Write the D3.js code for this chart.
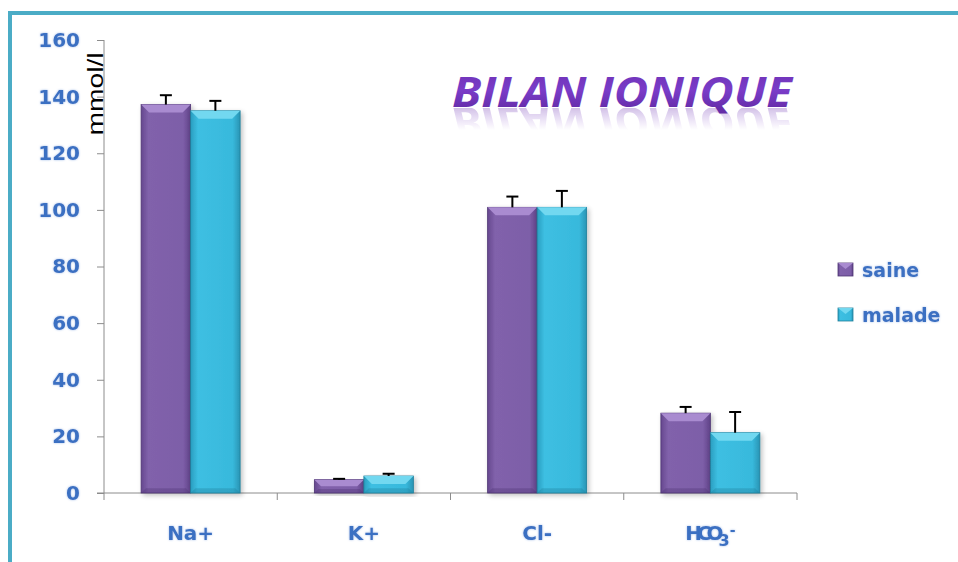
<!DOCTYPE html>
<html>
<head>
<meta charset="utf-8">
<script src="https://cdn.jsdelivr.net/npm/d3@7"></script>
<style>
  html, body { margin: 0; padding: 0; background: #fff; }
  svg { display: block; }
</style>
</head>
<body>
<div id="chart"></div>
<script>
// Ion concentrations (mmol/l), healthy vs. sick, with error bars
const categories = ["Na+", "K+", "Cl-", "HCO3-"];
const seriesNames = ["saine", "malade"];
const sainValues = [137.2, 4.7, 100.9, 28.2];
const sainErrors = [3.3, 0.3, 3.8, 2.2];
const maladeValues = [135.0, 6.0, 100.9, 21.3];
const maladeErrors = [3.5, 0.8, 5.8, 7.3];
const yTicks = [0, 20, 40, 60, 80, 100, 120, 140, 160];

const W = 958, H = 562;
const svg = d3.select("#chart").append("svg").attr("width", W).attr("height", H);
const defs = svg.append("defs");

// Soft glow used on the blue labels
const glow = defs.append("filter").attr("id", "glow").attr("x", "-20%").attr("y", "-40%").attr("width", "140%").attr("height", "180%");
glow.append("feGaussianBlur").attr("in", "SourceAlpha").attr("stdDeviation", 1.3).attr("result", "b");
glow.append("feFlood").attr("flood-color", "#9ab8e6").attr("flood-opacity", 0.9);
glow.append("feComposite").attr("in2", "b").attr("operator", "in").attr("result", "g");
const gm = glow.append("feMerge");
gm.append("feMergeNode").attr("in", "g");
gm.append("feMergeNode").attr("in", "SourceGraphic");

const shadow = defs.append("filter").attr("id", "shadow").attr("x", "-20%").attr("y", "-20%").attr("width", "150%").attr("height", "140%");
shadow.append("feGaussianBlur").attr("in", "SourceAlpha").attr("stdDeviation", 2.5).attr("result", "b");
shadow.append("feOffset").attr("in", "b").attr("dx", 2).attr("dy", 2).attr("result", "o");
shadow.append("feComponentTransfer").attr("in", "o").attr("result", "s")
  .append("feFuncA").attr("type", "linear").attr("slope", 0.25);
const sm = shadow.append("feMerge");
sm.append("feMergeNode").attr("in", "s");
sm.append("feMergeNode").attr("in", "SourceGraphic");

const palette = {
  saine:  { body: ["#66488f", "#8162ab", "#7d5ea8", "#5f4287"], top: "#a98bd0", edge: "#4e3573" },
  malade: { body: ["#2a9ec0", "#3dbfe2", "#38b9dc", "#2994b4"], top: "#72d8f0", edge: "#1f7f9b" }
};
Object.entries(palette).forEach(([k, p]) => {
  const g = defs.append("linearGradient").attr("id", "grad-" + k).attr("x1", 0).attr("x2", 1).attr("y1", 0).attr("y2", 0);
  [0, 0.15, 0.85, 1].forEach((o, i) => g.append("stop").attr("offset", o).attr("stop-color", p.body[i]));
});

// Outer frame
svg.append("path").attr("d", `M10,${H} L10,13 L${W},13`)
  .attr("fill", "none").attr("stroke", "#4bacc6").attr("stroke-width", 4);

// Scales
const plot = { left: 104, right: 797, top: 40, bottom: 493 };
const x = d3.scaleBand().domain(categories).range([plot.left, plot.right]).paddingInner(0).paddingOuter(0);
const xs = d3.scaleBand().domain(seriesNames).range([0, x.bandwidth()]).paddingInner(0).paddingOuter(0.75);
const y = d3.scaleLinear().domain([0, 160]).range([plot.bottom, plot.top]);

const blue = "#3a6fc2";
const labelFont = "DejaVu Sans, Verdana, sans-serif";

// Y axis
const yAxis = svg.append("g").attr("transform", `translate(${plot.left},0)`)
  .call(d3.axisLeft(y).tickValues(yTicks).tickSize(7).tickPadding(17).tickFormat(d3.format("d")));
yAxis.select(".domain").attr("stroke", "#8c8c8c").attr("d", `M0,${plot.top}V${plot.bottom + 7}`);
yAxis.selectAll(".tick line").attr("stroke", "#8c8c8c");
yAxis.selectAll(".tick text").attr("fill", blue).attr("font-family", labelFont)
  .attr("font-weight", "bold").attr("font-size", 20).attr("filter", "url(#glow)");

// X axis with boundary ticks between categories
const xAxisG = svg.append("g");
xAxisG.append("line").attr("x1", plot.left - 7).attr("x2", plot.right).attr("y1", plot.bottom).attr("y2", plot.bottom)
  .attr("stroke", "#8c8c8c");
const bounds = categories.map(c => x(c)).concat([x(categories[categories.length - 1]) + x.bandwidth()]);
xAxisG.selectAll("line.bt").data(bounds.slice(1)).join("line").attr("class", "bt")
  .attr("x1", d => d).attr("x2", d => d).attr("y1", plot.bottom).attr("y2", plot.bottom + 7).attr("stroke", "#8c8c8c");

const xLab = xAxisG.selectAll("text.xl").data(categories).join("text").attr("class", "xl")
  .attr("x", d => x(d) + x.bandwidth() / 2).attr("y", 540)
  .attr("text-anchor", "middle").attr("fill", blue).attr("font-family", labelFont)
  .attr("font-weight", "bold").attr("font-size", 20).attr("filter", "url(#glow)");
xLab.each(function(d) {
  const t = d3.select(this);
  if (d === "HCO3-") {
    t.append("tspan").text("HCO").attr("letter-spacing", -5);
    t.append("tspan").text("3").attr("dy", 6).attr("font-size", 16);
    t.append("tspan").text("-").attr("dy", -11).attr("font-size", 14);
  } else {
    t.text(d);
  }
});

// Y title
svg.append("text").attr("transform", "translate(103,94) rotate(-90)")
  .attr("text-anchor", "middle").attr("font-family", "Liberation Sans, Arial, sans-serif").attr("font-size", 22)
  .attr("textLength", 83).attr("lengthAdjust", "spacingAndGlyphs").attr("fill", "#000")
  .text("mmol/l");

// Bars
const rows = [];
categories.forEach((c, i) => {
  rows.push({ cat: c, s: "saine", v: sainValues[i], e: sainErrors[i] });
  rows.push({ cat: c, s: "malade", v: maladeValues[i], e: maladeErrors[i] });
});

const bars = svg.append("g").selectAll("g.bar").data(rows).join("g").attr("class", "bar").attr("filter", "url(#shadow)");
bars.each(function(d) {
  const g = d3.select(this);
  const p = palette[d.s];
  const x0 = x(d.cat) + xs(d.s), w = xs.bandwidth();
  const y0 = y(d.v), h = y(0) - y(d.v);
  const bev = Math.min(8, h / 2);
  g.append("rect").attr("x", x0).attr("y", y0).attr("width", w).attr("height", h)
    .attr("fill", `url(#grad-${d.s})`).attr("stroke", p.edge).attr("stroke-width", 0.8);
  // bevelled top face
  g.append("path")
    .attr("d", `M${x0},${y0} L${x0 + w},${y0} L${x0 + w - bev},${y0 + bev} L${x0 + bev},${y0 + bev} Z`)
    .attr("fill", p.top);
  // darker bottom bevel
  g.append("path")
    .attr("d", `M${x0},${y0 + h} L${x0 + w},${y0 + h} L${x0 + w - bev * 0.6},${y0 + h - bev * 0.6} L${x0 + bev * 0.6},${y0 + h - bev * 0.6} Z`)
    .attr("fill", p.edge).attr("opacity", 0.35);
});

// Error bars (upper whisker only)
const errs = svg.append("g").selectAll("g.err").data(rows).join("g").attr("class", "err");
errs.each(function(d) {
  const g = d3.select(this);
  const cx = x(d.cat) + xs(d.s) + xs.bandwidth() / 2;
  g.append("line").attr("x1", cx).attr("x2", cx).attr("y1", y(d.v)).attr("y2", y(d.v + d.e))
    .attr("stroke", "#000").attr("stroke-width", 2);
  g.append("line").attr("x1", cx - 6).attr("x2", cx + 6).attr("y1", y(d.v + d.e)).attr("y2", y(d.v + d.e))
    .attr("stroke", "#000").attr("stroke-width", 2);
});

// Legend
const legend = svg.append("g").selectAll("g").data(seriesNames).join("g")
  .attr("transform", (d, i) => `translate(838,${263 + i * 45})`);
legend.append("rect").attr("width", 15).attr("height", 13).attr("fill", d => `url(#grad-${d})`)
  .attr("stroke", d => palette[d].edge).attr("stroke-width", 0.8);
legend.append("path").attr("d", "M0,0 L15,0 L7.5,6 Z").attr("fill", d => palette[d].top);
legend.append("text").attr("x", 24).attr("y", 14).text(d => d)
  .attr("fill", blue).attr("font-family", labelFont).attr("font-weight", "bold").attr("font-size", 19)
  .attr("filter", "url(#glow)");

// Title with faded reflection
const fade = defs.append("linearGradient").attr("id", "fade").attr("x1", 0).attr("x2", 0).attr("y1", 0).attr("y2", 1);
fade.append("stop").attr("offset", 0).attr("stop-color", "#fff").attr("stop-opacity", 0.3);
fade.append("stop").attr("offset", 0.55).attr("stop-color", "#fff").attr("stop-opacity", 0);
const mask = defs.append("mask").attr("id", "reflMask").attr("maskContentUnits", "userSpaceOnUse");
mask.append("rect").attr("x", 440).attr("y", 108).attr("width", 370).attr("height", 40).attr("fill", "url(#fade)");

const tg = defs.append("linearGradient").attr("id", "titleGrad").attr("x1", 0).attr("x2", 0).attr("y1", 0).attr("y2", 1);
tg.append("stop").attr("offset", 0).attr("stop-color", "#6a2fb0");
tg.append("stop").attr("offset", 0.5).attr("stop-color", "#7a3cc8");
tg.append("stop").attr("offset", 1).attr("stop-color", "#5a2598");

svg.append("text").attr("id", "title").attr("x", 452).attr("y", 107).attr("fill", "url(#titleGrad)")
  .attr("font-family", "Open Sans, Liberation Sans, sans-serif")
  .attr("font-weight", "bold").attr("font-style", "italic").attr("font-size", 42)
  .attr("textLength", 340).attr("lengthAdjust", "spacingAndGlyphs").text("BILAN IONIQUE");
// mirrored copy of the title, faded out below it
svg.append("g").attr("mask", "url(#reflMask)")
  .append("use").attr("href", "#title").attr("transform", "translate(0,214) scale(1,-1)");
</script>
</body>
</html>
